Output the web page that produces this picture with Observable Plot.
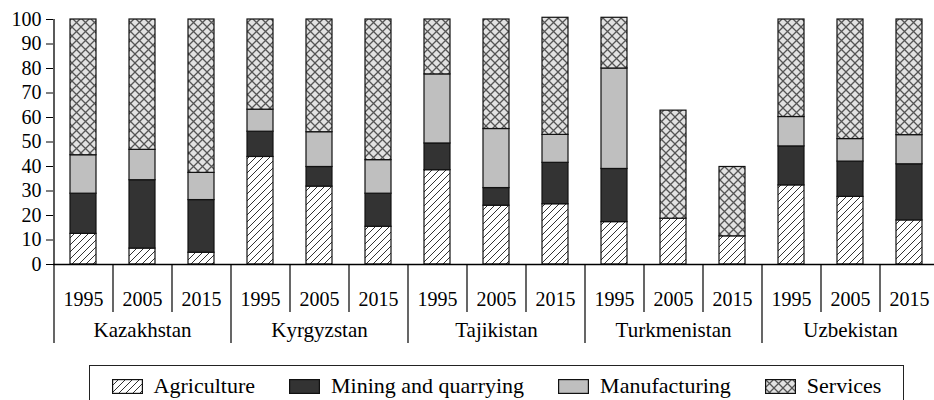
<!DOCTYPE html>
<html>
<head>
<meta charset="utf-8">
<script src="https://cdn.jsdelivr.net/npm/d3@7"></script>
<script src="https://cdn.jsdelivr.net/npm/@observablehq/plot@0.6"></script>
<style>
.lg { position: relative; margin-left: 89px; margin-top: 5px; width: 815px; height: 35px; box-sizing: border-box;
      border: 1.5px solid #222; border-bottom: none;
      display: flex; justify-content: center; align-items: center; padding-top: 6px;
      font-family: 'Liberation Serif'; font-size: 22px; color: #000; }
.item { display: flex; align-items: center; margin: 0 17px; }
.item svg { margin-right: 11px; display: block; }
</style>
</head>
<body style="margin:0;font-family:'Liberation Serif'">
<div id="chart" style="font-family:'Liberation Serif';height:360px"></div>
<div id="legend" class="lg"></div>
<script>
// ---- data ----
const countries = ["Kazakhstan", "Kyrgyzstan", "Tajikistan", "Turkmenistan", "Uzbekistan"];
const years = [1995, 2005, 2015];
const sectors = ["Agriculture", "Mining and quarrying", "Manufacturing", "Services"];
// shares (%) per bar, ordered country by country, year by year
const agriculture   = [12.5, 6.5, 4.8, 43.9, 31.8, 15.4, 38.5, 24.0, 24.6, 17.3, 18.7, 11.5, 32.3, 27.6, 18.0];
const mining        = [16.4, 27.9, 21.5, 10.3, 8.0, 13.5, 10.9, 7.2, 16.9, 21.7, 0, 0, 15.9, 14.4, 22.9];
const manufacturing = [15.7, 12.4, 11.1, 9.0, 14.2, 13.7, 28.2, 24.1, 11.4, 41.0, 0, 0, 12.0, 9.2, 11.9];
const services      = [55.4, 53.2, 62.6, 36.8, 46.0, 57.4, 22.4, 44.7, 47.8, 20.7, 44.1, 28.3, 39.8, 48.8, 47.2];
const yTicks = [0, 10, 20, 30, 40, 50, 60, 70, 80, 90, 100];

// ---- styles ----
const FONT = "Liberation Serif";
const sectorFills = ["url(#hatch)", "#333333", "#bfbfbf", "url(#cross)"];

// ---- build table ----
const series = [agriculture, mining, manufacturing, services];
const keys = countries.flatMap(c => years.map(y => `${c}|${y}`));
const rows = [];
keys.forEach((key, i) => {
  sectors.forEach((s, j) => {
    const v = series[j][i];
    if (v > 0) rows.push({key, sector: s, value: v});
  });
});
const innerKeys = keys.filter(k => !k.endsWith("|" + years[years.length - 1]));
const firstKeys = countries.map(c => `${c}|${years[0]}`);
const midKeys = countries.map(c => `${c}|${years[1]}`);

const W = 934, H = 360, mL = 53, mR = -4, mT = 19, mB = 96;
const step = (W - mL - mR) / keys.length;

const chart = Plot.plot({
  width: W, height: H,
  marginLeft: mL, marginRight: mR, marginTop: mT, marginBottom: mB,
  style: {fontFamily: FONT, fontSize: "20px", color: "#000", background: "transparent"},
  x: {domain: keys, paddingInner: 0.56, paddingOuter: 0.28, axis: null},
  y: {domain: [0, 100], axis: null},
  color: {domain: sectors, range: sectorFills},
  marks: [
    Plot.barY(rows, {x: "key", y: "value", fill: "sector", stroke: "#111", strokeWidth: 1.2}),
    Plot.axisY(yTicks, {tickSize: 7, tickPadding: 5, label: null, fontSize: 20, fontFamily: FONT}),
    Plot.ruleY([0], {stroke: "#000", strokeWidth: 1.3}),
    Plot.ruleX([keys[0]], {dx: -step / 2, stroke: "#000", strokeWidth: 1.3}),
    Plot.axisX(keys, {tickSize: 0, tickPadding: 27, tickFormat: k => k.split("|")[1], label: null, fontSize: 20, fontFamily: FONT}),
    Plot.axisX(innerKeys, {tickSize: 48, tickFormat: () => "", dx: step / 2, label: null, strokeWidth: 1.2}),
    Plot.axisX(firstKeys, {tickSize: 79, tickFormat: () => "", dx: -step / 2, label: null, strokeWidth: 1.2}),
    Plot.text(midKeys, {x: d => d, text: d => d.split("|")[0], frameAnchor: "bottom", dy: 72, fontSize: 21, fontFamily: FONT, fill: "#000"})
  ]
});

// pattern definitions inside the chart's own SVG
const NS = "http://www.w3.org/2000/svg";
const defs = document.createElementNS(NS, "defs");
defs.innerHTML = `
  <pattern id="hatch" patternUnits="userSpaceOnUse" width="7" height="7">
    <rect width="7" height="7" fill="#fff"/>
    <path d="M-1,1 l2,-2 M0,7 l7,-7 M6,8 l2,-2" stroke="#333" stroke-width="1"/>
  </pattern>
  <pattern id="cross" patternUnits="userSpaceOnUse" width="9" height="9">
    <rect width="9" height="9" fill="#e2e2e2"/>
    <path d="M0,0 L9,9 M9,0 L0,9" stroke="#555" stroke-width="1.3"/>
  </pattern>`;
chart.insertBefore(defs, chart.firstChild);
document.getElementById("chart").appendChild(chart);

// ---- legend ----
const legend = document.getElementById("legend");
sectors.forEach((s, j) => {
  const item = document.createElement("div");
  item.className = "item";
  item.innerHTML = `<svg width="31" height="15"><rect x="0.6" y="0.6" width="29.8" height="13.8" fill="${sectorFills[j]}" stroke="#111" stroke-width="1.2"/></svg><span>${s}</span>`;
  legend.appendChild(item);
});
</script>
</body>
</html>
